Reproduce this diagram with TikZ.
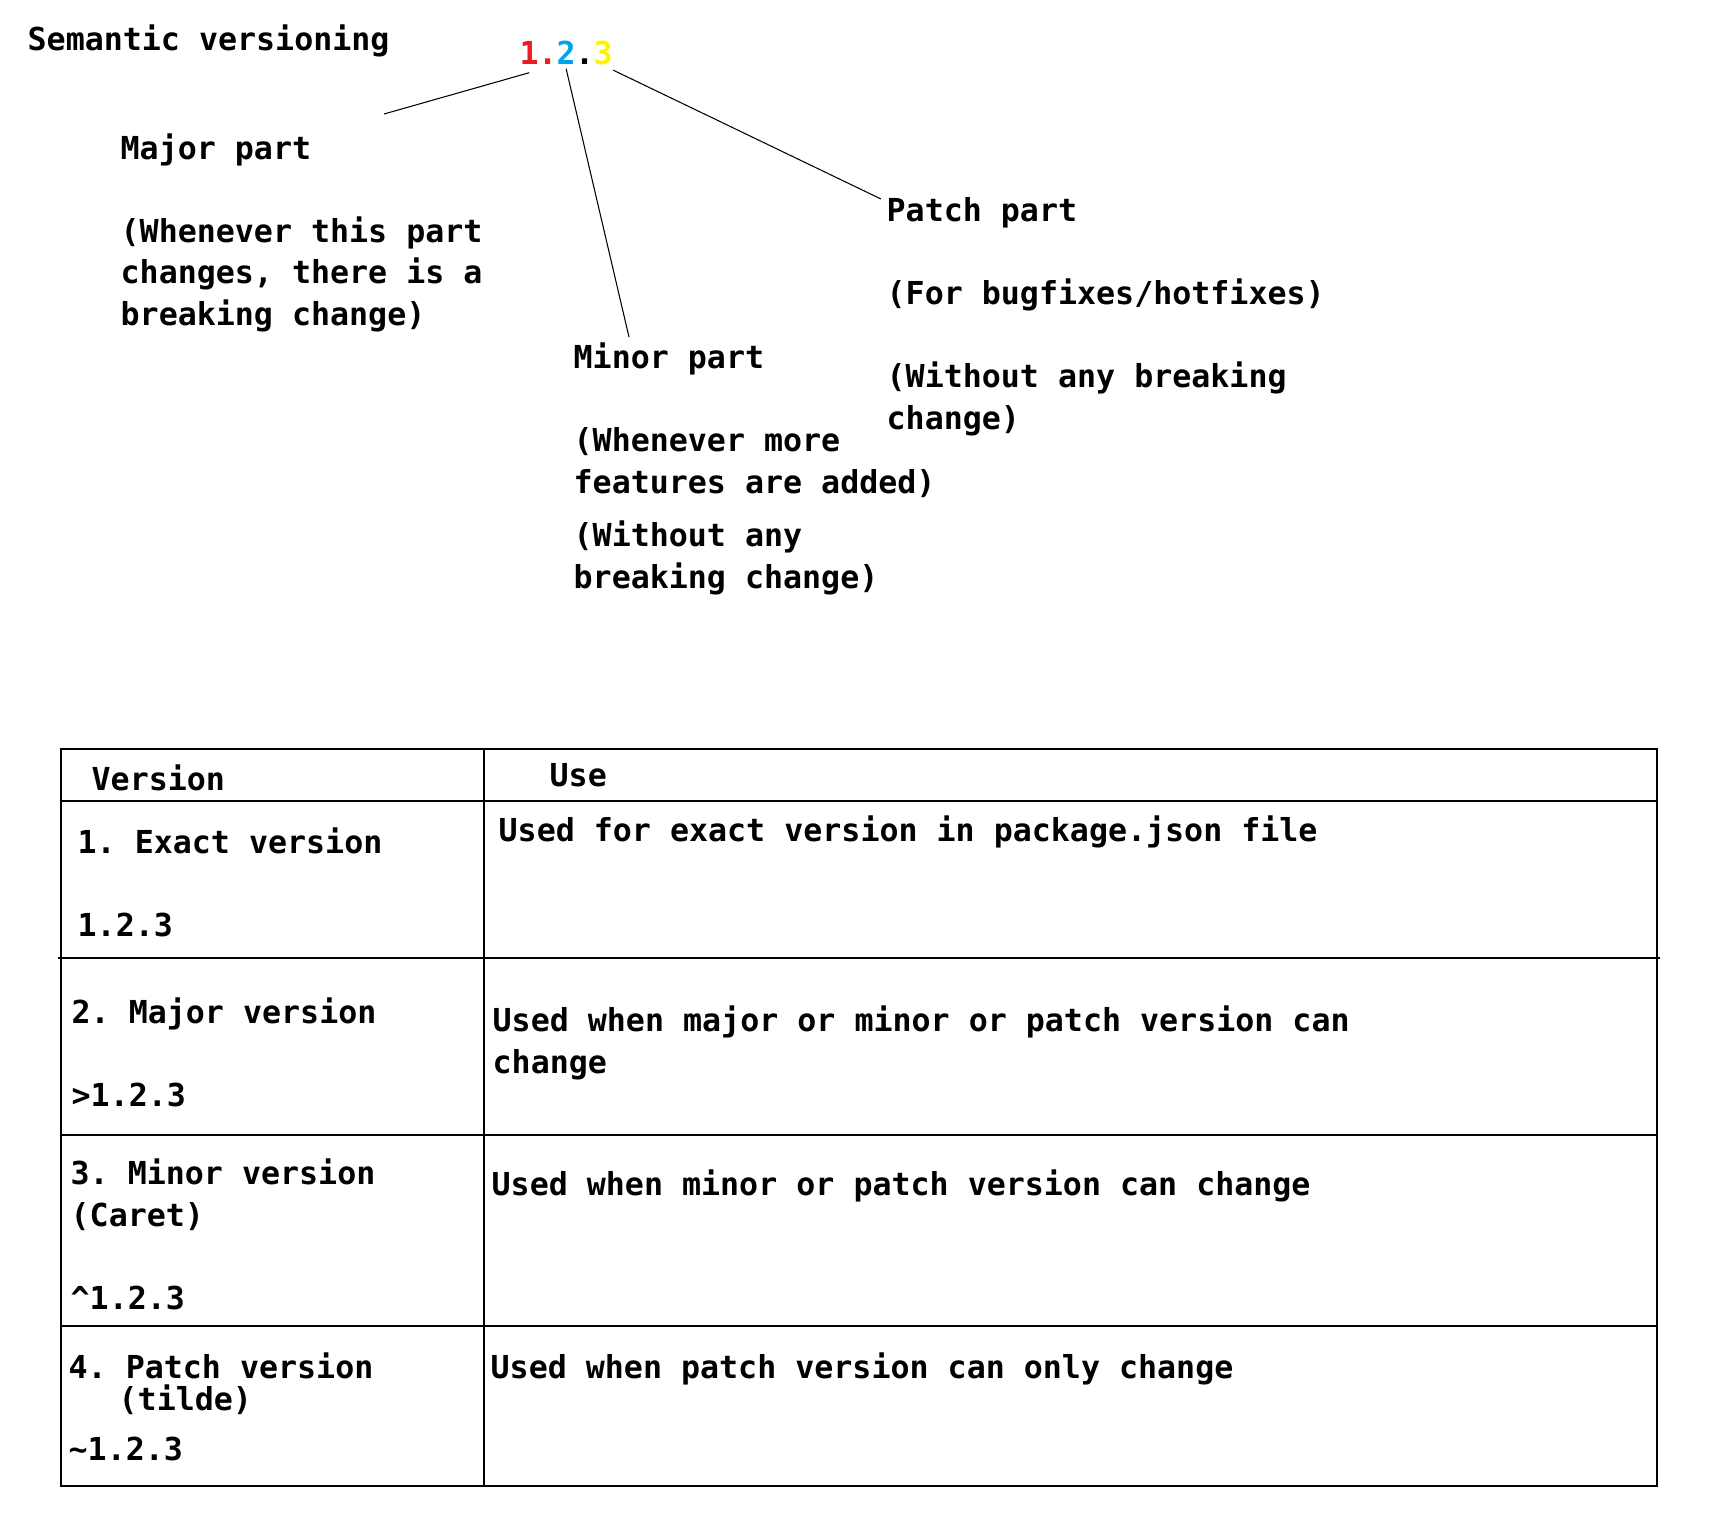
\documentclass[tikz,border=0pt]{standalone}
\usepackage{fontspec}
\setmainfont{DejaVu Sans Mono}
\usepackage{tikz}

\definecolor{majred}{HTML}{ED1C24}
\definecolor{minblue}{HTML}{00A2E8}
\definecolor{patyellow}{HTML}{FFF200}

% multi-line nodes sit on the baseline of their last line
\tikzset{
  txt/.style = {anchor=base west, inner sep=0pt, align=left,
    font=\frenchspacing\bfseries\fontsize{9}{11.8}\selectfont},
  digit/.style = {txt, text=#1},
  part/.style = {line width=0.3pt},
  grid/.style = {line width=0.55pt}
}

\begin{document}
\begin{tikzpicture}
\useasboundingbox (0, 0) rectangle (17.16, -15.26);

\node[txt] (title) at (0.27, -0.50) {Semantic versioning};

% the version number, one node per character
\node[digit=majred] (v1) at (5.19, -0.64) {1};
\node[digit=majred] (p1) at ([xshift=-0.02cm]v1.base east) {.};
\node[digit=minblue] (v2) at ([xshift=-0.02cm]p1.base east) {2};
\node[digit=black] (p2) at ([xshift=-0.02cm]v2.base east) {.};
\node[digit=patyellow] (v3) at ([xshift=-0.02cm]p2.base east) {3};

\node[txt] (major) at (1.20, -3.25) {Major part\\[11.8pt]
  (Whenever this part\\changes, there is a\\breaking change)};
\node[txt] (minor) at (5.73, -5.88) {Minor part\\[11.8pt]
  (Whenever more\\features are added)\\[3.4pt]
  (Without any\\breaking change)};
\node[txt] (patch) at (8.86, -4.29) {Patch part\\[11.8pt]
  (For bugfixes/hotfixes)\\[11.8pt]
  (Without any breaking\\change)};

\coordinate (majend) at (3.84, -1.14);
\coordinate (minend) at (6.29, -3.37);
\coordinate (patend) at (8.81, -1.99);
\draw[part] ([yshift=-0.08cm]v1.south) -- (majend);
\draw[part] ([yshift=-0.04cm]v2.south) -- (minend);
\draw[part] ([yshift=-0.05cm]v3.south east) -- (patend);

% table
\draw[grid] (0.61, -7.49) rectangle (16.57, -14.86);
\draw[grid] (4.84, -7.49) -- (4.84, -14.86);
\draw[grid] (0.61, -8.01) -- (16.57, -8.01);
\draw[grid] (0.58, -9.58) -- (16.60, -9.58);
\draw[grid] (0.61, -11.35) -- (16.57, -11.35);
\draw[grid] (0.61, -13.26) -- (16.57, -13.26);

\node[txt] (hver) at (0.91, -7.90) {Version};
\node[txt] (huse) at (5.49, -7.86) {Use};

\node[txt] (exact) at (0.77, -9.36) {1. Exact version\\[11.8pt] 1.2.3};
\node[txt] (exactuse) at (4.98, -8.41) {Used for exact version in package.json file};

\node[txt] (majv) at (0.71, -11.06) {2. Major version\\[11.8pt] >1.2.3};
\node[txt] (majuse) at (4.92, -10.73) {Used when major or minor or patch version can\\change};

\node[txt] (minv) at (0.70, -13.09) {3. Minor version\\(Caret)\\[11.8pt] \^{}1.2.3};
\node[txt] (minuse) at (4.91, -11.95) {Used when minor or patch version can change};

\node[txt] (patv) at (0.68, -14.60) {4. Patch version\\[-2.7pt]
  \hspace*{0.50cm}(tilde)\\[2.4pt] \~{}1.2.3};
\node[txt] (patuse) at (4.90, -13.78) {Used when patch version can only change};
\end{tikzpicture}
\end{document}
